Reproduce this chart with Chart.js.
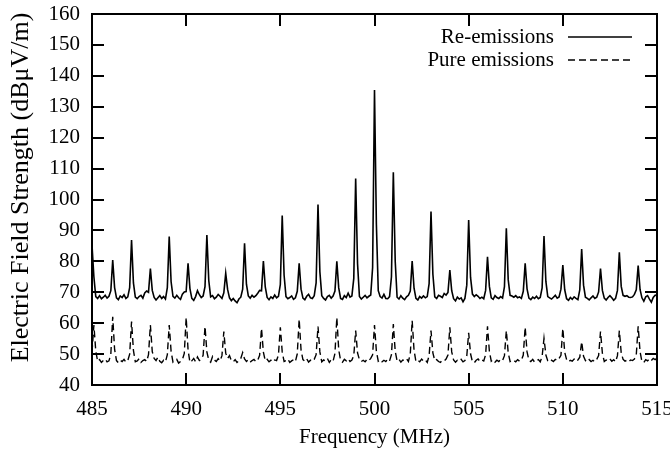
<!DOCTYPE html>
<html>
<head>
<meta charset="utf-8">
<script src="https://cdn.jsdelivr.net/npm/chart.js@4.4.1/dist/chart.umd.min.js"></script>
<style>
  html, body { margin: 0; padding: 0; background: #fff; }
  #wrap { width: 670px; height: 451px; position: relative; }
</style>
</head>
<body>
<div id="wrap"><canvas id="c"></canvas></div>
<script>
// ---- Data ----
const seriesNames = ["Re-emissions", "Pure emissions"];
const xAxisTitle = "Frequency (MHz)";
const yAxisTitle = "Electric Field Strength (dBμV/m)";
const xTickLabels = [485, 490, 495, 500, 505, 510, 515];
const yTickLabels = [40, 50, 60, 70, 80, 90, 100, 110, 120, 130, 140, 150, 160];
const startMHz = 485;
const stepMHz = 0.1;

// Re-emissions, sampled every 0.1 MHz from 485.0 to 515.0 (dBuV/m)
const reEmissions = [
  85.3, 75.0, 68.6, 68.0, 68.9, 67.9, 68.4, 69.0, 68.1, 68.7,
  70.5, 80.4, 71.5, 68.2, 67.6, 68.8, 68.3, 69.2, 68.0, 68.5,
  71.5, 86.9, 73.0, 68.4, 67.9, 68.6, 69.0, 68.1, 69.8, 70.4,
  70.0, 77.7, 70.6, 68.3, 67.5, 68.2, 68.9, 68.0, 68.6, 67.8,
  71.5, 88.0, 73.4, 68.7, 68.1, 69.0, 68.2, 67.7, 69.4, 70.1,
  70.2, 79.4, 71.2, 68.0, 67.4, 68.6, 70.5, 69.2, 68.3, 68.8,
  71.8, 88.5, 73.8, 68.5, 68.9, 67.9, 68.4, 69.3, 68.7, 68.0,
  69.8, 76.1, 70.9, 68.2, 67.3, 68.0, 67.2, 66.6, 67.8, 68.4,
  71.0, 85.8, 72.6, 68.8, 68.1, 69.0, 68.4, 68.9, 69.7, 70.6,
  70.5, 80.1, 71.7, 68.3, 67.6, 68.5, 68.0, 69.1, 68.2, 68.7,
  72.5, 94.8, 75.5, 68.6, 67.9, 68.3, 68.8, 67.7, 68.2, 70.3,
  79.4, 71.0, 68.1, 67.6, 68.7, 69.3, 68.2, 68.0, 68.9, 73.0,
  98.4, 76.6, 68.9, 68.0, 67.5, 68.6, 69.0, 68.1, 68.8, 70.4,
  80.0, 71.4, 68.0, 67.7, 68.9, 68.3, 69.7, 68.4, 68.8, 74.5,
  106.8, 79.2, 68.6, 67.8, 68.4, 69.0, 68.2, 68.7, 69.1, 78.0,
  135.4, 92.0, 70.5, 68.6, 68.1, 69.3, 68.0, 67.9, 68.6, 75.0,
  108.8, 80.0, 68.4, 67.8, 68.9, 68.1, 67.6, 68.5, 69.0, 70.4,
  80.1, 71.3, 68.0, 67.5, 68.6, 68.1, 68.8, 68.2, 68.6, 72.8,
  96.1, 75.8, 68.5, 68.0, 69.0, 68.7, 68.3, 69.6, 69.1, 69.9,
  77.2, 70.5, 67.9, 67.2, 68.4, 67.8, 68.2, 66.9, 68.0, 72.3,
  93.4, 74.8, 69.4, 68.6, 69.2, 68.7, 68.0, 68.4, 67.9, 70.6,
  81.5, 71.9, 68.2, 67.7, 68.9, 68.3, 68.0, 68.6, 68.1, 71.8,
  90.7, 74.0, 69.0, 68.8, 68.4, 68.9, 68.2, 68.5, 68.0, 70.3,
  79.4, 71.1, 68.1, 67.6, 68.4, 68.0, 68.7, 67.9, 68.3, 71.4,
  88.2, 73.5, 68.6, 68.2, 67.8, 68.4, 69.0, 68.1, 68.5, 71.0,
  78.8, 70.8, 67.9, 67.4, 68.3, 67.7, 68.5, 68.0, 67.6, 70.8,
  84.0, 72.3, 68.4, 68.0, 67.5, 68.2, 68.8, 68.0, 68.4, 70.1,
  77.7, 70.6, 68.1, 67.5, 68.3, 68.9, 68.2, 67.4, 68.0, 70.6,
  82.9, 71.9, 69.0, 68.7, 68.9, 68.4, 68.3, 68.5, 69.3, 70.8,
  78.6, 70.9, 68.2, 67.1, 68.5, 68.9, 67.8, 66.8, 68.3, 69.0,
  69.1
];

// Pure emissions, sampled every 0.1 MHz from 485.0 to 515.0 (dBuV/m)
const pureEmissions = [
  50.5, 59.4, 51.0, 47.6, 48.2, 47.3, 47.9, 48.4, 47.5, 47.8,
  50.0, 62.1, 51.5, 47.9, 47.2, 48.0, 47.6, 48.3, 47.4, 47.9,
  50.0, 60.5, 51.2, 47.5, 47.8, 48.5, 47.3, 47.9, 48.2, 47.6,
  49.8, 59.4, 50.8, 48.6, 47.9, 49.0, 47.7, 47.2, 48.0, 47.5,
  49.8, 59.4, 50.9, 47.4, 47.9, 48.3, 47.1, 47.6, 48.2, 50.2,
  61.8, 51.4, 47.3, 47.8, 48.6, 47.5, 49.1, 47.9, 48.3, 49.6,
  58.9, 50.7, 48.0, 47.4, 49.2, 48.1, 47.6, 48.5, 47.8, 49.5,
  57.3, 50.3, 48.6, 49.5, 47.9, 47.5, 48.2, 47.3, 47.8, 48.6,
  50.5, 48.4, 47.6, 48.2, 47.4, 47.9, 48.3, 47.5, 48.0, 49.6,
  58.3, 50.6, 47.8, 48.3, 47.5, 48.0, 47.4, 48.1, 47.9, 49.7,
  58.7, 50.7, 47.6, 47.9, 48.4, 47.3, 47.8, 48.2, 47.6, 50.1,
  61.3, 51.3, 48.2, 47.7, 48.5, 47.4, 48.0, 47.6, 48.3, 49.8,
  58.9, 50.7, 47.5, 48.1, 47.8, 48.6, 47.3, 48.2, 47.7, 50.2,
  61.8, 51.4, 47.9, 47.4, 48.3, 47.8, 48.5, 47.6, 48.1, 49.5,
  57.6, 50.4, 48.2, 47.6, 48.0, 47.5, 48.3, 47.9, 48.6, 49.8,
  59.4, 50.9, 47.7, 48.2, 47.5, 48.0, 47.6, 48.4, 47.8, 49.8,
  59.7, 50.9, 47.8, 48.3, 47.4, 48.1, 47.9, 48.5, 47.6, 50.0,
  60.8, 51.2, 47.6, 48.0, 47.5, 48.4, 47.7, 48.1, 47.3, 49.5,
  57.6, 50.4, 47.9, 48.2, 47.6, 47.3, 48.0, 47.8, 48.4, 49.7,
  58.7, 50.7, 48.1, 47.4, 48.0, 47.7, 48.3, 47.5, 47.9, 49.4,
  56.9, 50.1, 47.5, 47.2, 48.0, 48.4, 47.6, 48.1, 47.8, 49.8,
  59.0, 50.8, 47.7, 48.2, 47.4, 48.0, 47.6, 48.3, 47.9, 49.5,
  57.6, 50.4, 47.6, 48.1, 47.9, 47.5, 48.2, 47.7, 48.0, 49.7,
  58.7, 50.7, 48.0, 47.6, 48.3, 47.4, 47.9, 48.2, 47.5, 49.2,
  55.1, 49.7, 47.8, 47.4, 48.0, 47.6, 48.3, 47.9, 48.6, 49.6,
  58.3, 50.6, 48.2, 47.5, 48.0, 47.7, 48.4, 47.6, 48.1, 49.0,
  54.0, 49.3, 47.9, 47.4, 48.2, 47.6, 48.0, 47.5, 48.3, 49.5,
  57.3, 50.3, 47.6, 48.1, 47.8, 48.4, 47.7, 48.2, 47.5, 49.5,
  57.6, 50.4, 48.3, 47.7, 48.0, 47.5, 48.1, 47.9, 48.4, 49.8,
  59.0, 50.8, 47.6, 47.3, 48.2, 47.8, 48.5, 47.9, 48.6, 48.2,
  48.7
];

// sampling grid (category axis values)
const frequencies = reEmissions.map((_, i) => +(startMHz + i * stepMHz).toFixed(1));

// ---- Chart ----
const SERIF = '"Liberation Serif", "Times New Roman", "DejaVu Serif", serif';
const DASH = [7, 4];

const frame = {
  id: 'frame',
  afterDraw(chart) {
    const { ctx, chartArea: a, scales } = chart;
    const L = 12;
    ctx.save();
    ctx.strokeStyle = '#000';
    ctx.lineWidth = 2;
    ctx.setLineDash([]);
    ctx.beginPath();
    ctx.rect(a.left, a.top, a.right - a.left, a.bottom - a.top);
    ctx.stroke();
    ctx.beginPath();
    scales.x.ticks.forEach(t => {
      const px = Math.round(scales.x.getPixelForValue(t.value));
      ctx.moveTo(px, a.bottom); ctx.lineTo(px, a.bottom - L);
      ctx.moveTo(px, a.top); ctx.lineTo(px, a.top + L);
    });
    scales.y.ticks.forEach(t => {
      const py = Math.round(scales.y.getPixelForValue(t.value));
      ctx.moveTo(a.left, py); ctx.lineTo(a.left + L, py);
      ctx.moveTo(a.right, py); ctx.lineTo(a.right - L, py);
    });
    ctx.stroke();

    // y axis title (rotated)
    ctx.fillStyle = '#000';
    ctx.font = '26px ' + SERIF;
    ctx.textAlign = 'center';
    ctx.textBaseline = 'middle';
    ctx.save();
    ctx.translate(a.left - 71, (a.top + a.bottom) / 2 - 12);
    ctx.rotate(-Math.PI / 2);
    ctx.fillText(yAxisTitle, 0, 0);
    ctx.restore();

    // legend (text right-aligned, sample line on the right)
    ctx.font = '21px ' + SERIF;
    ctx.textAlign = 'right';
    ctx.textBaseline = 'middle';
    const tx = a.right - 103, lx0 = a.right - 89, lx1 = a.right - 25;
    const rows = [a.top + 23, a.top + 46];
    chart.data.datasets.forEach((ds, i) => {
      ctx.fillText(ds.label, tx, rows[i]);
      ctx.lineWidth = 1.4;
      ctx.setLineDash(ds.borderDash || []);
      ctx.beginPath();
      ctx.moveTo(lx0, rows[i]); ctx.lineTo(lx1, rows[i]);
      ctx.stroke();
    });
    ctx.restore();
  }
};

new Chart(document.getElementById('c'), {
  type: 'line',
  data: {
    datasets: [
      {
        label: seriesNames[0],
        data: frequencies.map((f, i) => ({ x: f, y: reEmissions[i] })),
        borderColor: '#000',
        borderWidth: 1.6,
        pointRadius: 0,
        tension: 0,
        fill: false
      },
      {
        label: seriesNames[1],
        data: frequencies.map((f, i) => ({ x: f, y: pureEmissions[i] })),
        borderColor: '#000',
        borderWidth: 1.4,
        borderDash: DASH,
        pointRadius: 0,
        tension: 0,
        fill: false
      }
    ]
  },
  options: {
    responsive: true,
    maintainAspectRatio: false,
    animation: false,
    layout: { padding: { top: 14, right: 13, left: 0, bottom: 0 } },
    plugins: { legend: { display: false }, tooltip: { enabled: false } },
    scales: {
      x: {
        type: 'linear',
        min: xTickLabels[0],
        max: xTickLabels[xTickLabels.length - 1],
        afterBuildTicks: s => { s.ticks = xTickLabels.map(v => ({ value: v })); },
        afterFit: s => { s.height = 66; s.paddingLeft = 0; s.paddingRight = 0; },
        grid: { display: false, drawTicks: false },
        border: { display: false },
        ticks: { color: '#000', font: { family: SERIF, size: 21 }, padding: 12, maxRotation: 0 },
        title: { display: true, text: xAxisTitle, color: '#000',
                 font: { family: SERIF, size: 21 }, padding: { top: 0, bottom: 1 } }
      },
      y: {
        min: yTickLabels[0],
        max: yTickLabels[yTickLabels.length - 1],
        afterBuildTicks: s => { s.ticks = yTickLabels.map(v => ({ value: v })); },
        afterFit: s => { s.width = 92; s.paddingTop = 0; s.paddingBottom = 0; },
        grid: { display: false, drawTicks: false },
        border: { display: false },
        ticks: { color: '#000', font: { family: SERIF, size: 21 }, padding: 12 },
        title: { display: false }
      }
    }
  },
  plugins: [frame]
});
</script>
</body>
</html>
